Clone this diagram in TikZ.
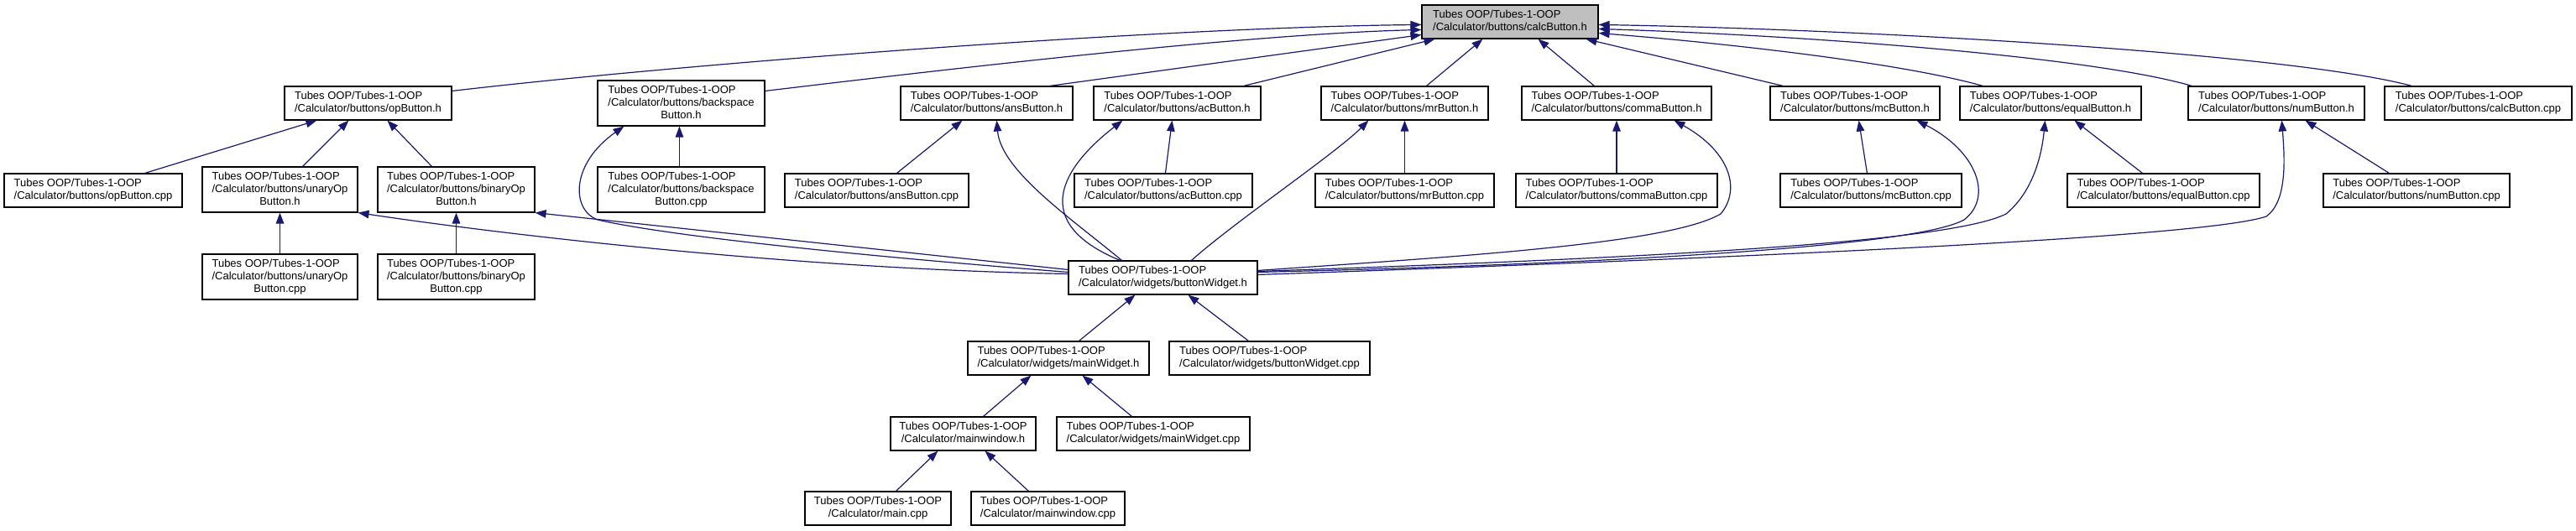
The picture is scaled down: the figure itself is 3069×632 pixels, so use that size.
\documentclass[tikz,border=0pt]{standalone}
\usepackage{fontspec}
\setmainfont{Liberation Sans}
\usetikzlibrary{arrows.meta,shadows}
\definecolor{edgeblue}{HTML}{191970}
\definecolor{hilite}{HTML}{BFBFBF}
\newcommand\tubes{Tubes OOP/Tubes-1-OOP}
\newcommand\twoL[2]{\begin{tabular}{@{}l@{}}#1\\\multicolumn{1}{@{}c@{}}{#2}\end{tabular}}
\newcommand\threeL[3]{\begin{tabular}{@{}l@{}}#1\\#2\\\multicolumn{1}{@{}c@{}}{#3}\end{tabular}}
\tikzset{
  box/.style={draw=black, line width=1.1pt, fill=white, inner sep=0pt, anchor=center,
    minimum height=40pt, font=\fontsize{13}{15}\selectfont,
    general shadow={fill=black!50, shadow xshift=1.3pt, shadow yshift=-1.3pt}},
  tall/.style={minimum height=54pt},
  dep/.style={draw=edgeblue, line width=1.2pt, -{Triangle[length=13pt,width=9.5pt]}}
}
\begin{document}
\begin{tikzpicture}[x=1pt,y=-1pt]
\useasboundingbox[fill=white] (0,0) rectangle (3069,632);
% row 1
\node[box, fill=hilite, minimum width=210pt] (calch) at (1799,26) {\twoL{\tubes}{/Calculator/buttons/calcButton.h}};
% row 2
\node[box, minimum width=199pt] (opBh) at (438.5,123) {\twoL{\tubes}{/Calculator/buttons/opButton.h}};
\node[box, tall, minimum width=199pt] (bsh) at (811.5,123) {\threeL{\tubes}{/Calculator/buttons/backspace}{Button.h}};
\node[box, minimum width=205pt] (ansh) at (1175.5,123) {\twoL{\tubes}{/Calculator/buttons/ansButton.h}};
\node[box, minimum width=199pt] (ach) at (1402.5,123) {\twoL{\tubes}{/Calculator/buttons/acButton.h}};
\node[box, minimum width=199pt] (mrh) at (1673.5,123) {\twoL{\tubes}{/Calculator/buttons/mrButton.h}};
\node[box, minimum width=226pt] (commah) at (1926,123) {\twoL{\tubes}{/Calculator/buttons/commaButton.h}};
\node[box, minimum width=202pt] (mch) at (2210,123) {\twoL{\tubes}{/Calculator/buttons/mcButton.h}};
\node[box, minimum width=216pt] (equalh) at (2443,123) {\twoL{\tubes}{/Calculator/buttons/equalButton.h}};
\node[box, minimum width=210pt] (numh) at (2712,123) {\twoL{\tubes}{/Calculator/buttons/numButton.h}};
\node[box, minimum width=223pt] (calccpp) at (2952.5,123) {\twoL{\tubes}{/Calculator/buttons/calcButton.cpp}};
% row 3
\node[box, minimum width=212pt] (opcpp) at (111,227) {\twoL{\tubes}{/Calculator/buttons/opButton.cpp}};
\node[box, tall, minimum width=185pt] (unaryh) at (333.5,226) {\threeL{\tubes}{/Calculator/buttons/unaryOp}{Button.h}};
\node[box, tall, minimum width=187pt] (binaryh) at (543.5,226) {\threeL{\tubes}{/Calculator/buttons/binaryOp}{Button.h}};
\node[box, tall, minimum width=199pt] (bscpp) at (811.5,226) {\threeL{\tubes}{/Calculator/buttons/backspace}{Button.cpp}};
\node[box, minimum width=219pt] (anscpp) at (1044.5,227) {\twoL{\tubes}{/Calculator/buttons/ansButton.cpp}};
\node[box, minimum width=212pt] (accpp) at (1386,227) {\twoL{\tubes}{/Calculator/buttons/acButton.cpp}};
\node[box, minimum width=213pt] (mrcpp) at (1673.5,227) {\twoL{\tubes}{/Calculator/buttons/mrButton.cpp}};
\node[box, minimum width=240pt] (commacpp) at (1926,227) {\twoL{\tubes}{/Calculator/buttons/commaButton.cpp}};
\node[box, minimum width=216pt] (mccpp) at (2229,227) {\twoL{\tubes}{/Calculator/buttons/mcButton.cpp}};
\node[box, minimum width=229pt] (equalcpp) at (2577.5,227) {\twoL{\tubes}{/Calculator/buttons/equalButton.cpp}};
\node[box, minimum width=222pt] (numcpp) at (2879,227) {\twoL{\tubes}{/Calculator/buttons/numButton.cpp}};
% row 4
\node[box, tall, minimum width=185pt] (unarycpp) at (333.5,330) {\threeL{\tubes}{/Calculator/buttons/unaryOp}{Button.cpp}};
\node[box, tall, minimum width=187pt] (binarycpp) at (543.5,330) {\threeL{\tubes}{/Calculator/buttons/binaryOp}{Button.cpp}};
\node[box, minimum width=225pt] (bwh) at (1385.5,331) {\twoL{\tubes}{/Calculator/widgets/buttonWidget.h}};
% row 5
\node[box, minimum width=216pt] (mwh) at (1261,427) {\twoL{\tubes}{/Calculator/widgets/mainWidget.h}};
\node[box, minimum width=239pt] (bwcpp) at (1512.5,427) {\twoL{\tubes}{/Calculator/widgets/buttonWidget.cpp}};
% row 6
\node[box, minimum width=173pt] (mwinh) at (1147.5,517) {\twoL{\tubes}{/Calculator/mainwindow.h}};
\node[box, minimum width=230pt] (mwcpp) at (1374,517) {\twoL{\tubes}{/Calculator/widgets/mainWidget.cpp}};
% row 7
\node[box, minimum width=174pt] (maincpp) at (1046,606) {\twoL{\tubes}{/Calculator/main.cpp}};
\node[box, minimum width=183pt] (mwincpp) at (1248.5,606) {\twoL{\tubes}{/Calculator/mainwindow.cpp}};

% edges to calcButton.h
\draw[dep] ([yshift=-6pt]opBh.north east) .. controls +(300,-35) and +(-300,3) .. ([yshift=-24pt]calch.north west);
\draw[dep] ([yshift=-13pt]bsh.north east) .. controls +(250,-30) and +(-200,5) .. ([yshift=-30pt]calch.north west);
\draw[dep] ([xshift=178pt]ansh.north west) -- ([yshift=-36pt]calch.north west);
\draw[dep] ([xshift=179pt]ach.north west) -- ([xshift=16pt]calch.south west);
\draw[dep] ([xshift=126pt]mrh.north west) -- ([xshift=73pt]calch.south west);
\draw[dep] ([xshift=87pt]commah.north west) -- ([xshift=139pt]calch.south west);
\draw[dep] ([xshift=16pt]mch.north west) -- ([xshift=196pt]calch.south west);
\draw[dep] ([xshift=28pt]equalh.north west) .. controls +(-100,-28) and +(150,12) .. ([yshift=-34pt]calch.north east);
\draw[dep] ([xshift=5pt]numh.north west) .. controls +(-120,-35) and +(250,8) .. ([yshift=-29pt]calch.north east);
\draw[dep] ([xshift=33pt]calccpp.north west) .. controls +(-150,-40) and +(300,5) .. ([yshift=-24pt]calch.north east);

% row 3 to row 2
\draw[dep] ([xshift=168pt]opcpp.north west) -- ([xshift=39pt]opBh.south west);
\draw[dep] ([xshift=120pt]unaryh.north west) -- ([xshift=77pt]opBh.south west);
\draw[dep] ([xshift=65pt]binaryh.north west) -- ([xshift=123pt]opBh.south west);
\draw[dep] (unarycpp.north) -- (unaryh.south);
\draw[dep] (binarycpp.north) -- (binaryh.south);
\draw[dep] ([xshift=98pt]bscpp.north west) -- ([xshift=98pt]bsh.south west);
\draw[dep] ([xshift=134pt]anscpp.north west) -- ([xshift=74pt]ansh.south west);
\draw[dep] ([xshift=109pt]accpp.north west) -- ([xshift=94pt]ach.south west);
\draw[dep] (mrcpp.north) -- (mrh.south);
\draw[dep] (commacpp.north) -- (commah.south);
\draw[dep] ([xshift=104pt]mccpp.north west) -- ([xshift=106pt]mch.south west);
\draw[dep] ([xshift=90pt]equalcpp.north west) -- ([xshift=137pt]equalh.south west);
\draw[dep] ([xshift=79pt]numcpp.north west) -- ([xshift=140pt]numh.south west);

% buttonWidget.h to headers
\draw[dep] ([yshift=-16pt]bwh.north west) .. controls +(-300,-5) and +(200,30) .. (unaryh.south east);
\draw[dep] ([yshift=-11pt]bwh.north west) -- (binaryh.south east);
\draw[dep] ([yshift=-14pt]bwh.north west) .. controls (1000,303) and (790,280) .. (712,262)
  .. controls (680,250) and (680,195) .. ([xshift=32pt]bsh.south west);
\draw[dep] ([xshift=64pt]bwh.north west) .. controls +(-60,-50) and +(5,60) .. ([xshift=115pt]ansh.south west);
\draw[dep] ([xshift=62pt]bwh.north west) .. controls (1225,265) and (1265,200) .. ([xshift=35pt]ach.south west);
\draw[dep] ([xshift=147pt]bwh.north west) .. controls +(50,-45) and +(-40,40) .. ([xshift=57pt]mrh.south west);
\draw[dep] ([yshift=-12pt]bwh.north east) .. controls (1750,305) and (1990,290) .. (2050,255)
  .. controls (2075,225) and (2060,180) .. ([xshift=182pt]commah.south west);
\draw[dep] ([yshift=-14pt]bwh.north east) .. controls (1900,315) and (2280,295) .. (2340,262)
  .. controls (2375,235) and (2355,180) .. ([xshift=175pt]mch.south west);
\draw[dep] ([yshift=-13pt]bwh.north east) .. controls (1950,308) and (2320,290) .. (2390,255)
  .. controls (2420,230) and (2432,190) .. ([xshift=102pt]equalh.south west);
\draw[dep] ([yshift=-17pt]bwh.north east) .. controls (2000,310) and (2620,285) .. (2700,258)
  .. controls (2725,240) and (2722,190) .. ([xshift=112pt]numh.south west);

% lower rows
\draw[dep] ([xshift=133pt]mwh.north west) -- ([xshift=80pt]bwh.south west);
\draw[dep] ([xshift=95pt]bwcpp.north west) -- ([xshift=143pt]bwh.south west);
\draw[dep] ([xshift=111pt]mwinh.north west) -- ([xshift=76pt]mwh.south west);
\draw[dep] ([xshift=90pt]mwcpp.north west) -- ([xshift=137pt]mwh.south west);
\draw[dep] ([xshift=109pt]maincpp.north west) -- ([xshift=57pt]mwinh.south west);
\draw[dep] ([xshift=69pt]mwincpp.north west) -- ([xshift=113pt]mwinh.south west);
\end{tikzpicture}
\end{document}
